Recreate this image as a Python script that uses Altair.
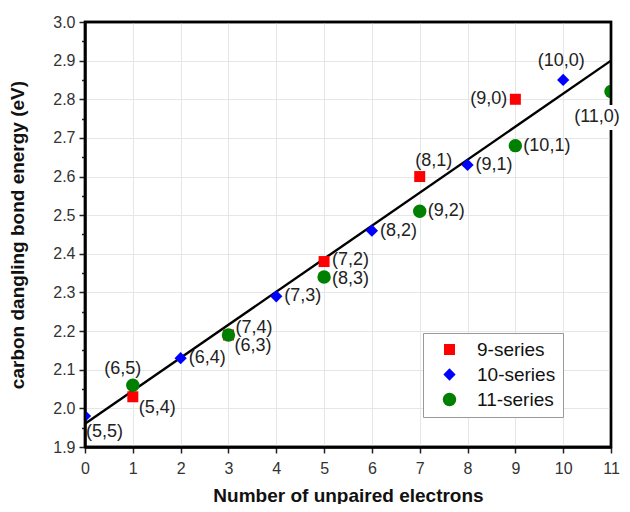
import altair as alt
import pandas as pd

# ---- data ----
series = ["9-series", "9-series", "9-series", "9-series", "9-series",
          "10-series", "10-series", "10-series", "10-series", "10-series", "10-series",
          "11-series", "11-series", "11-series", "11-series", "11-series", "11-series"]
x_vals = [1, 3, 5, 7, 9,
          0, 2, 4, 6, 8, 10,
          1, 3, 5, 7, 9, 11]
y_vals = [2.03, 2.19, 2.38, 2.60, 2.80,
          1.98, 2.13, 2.29, 2.46, 2.63, 2.85,
          2.06, 2.19, 2.34, 2.51, 2.68, 2.82]
labels = ["(5,4)", "(6,3)", "(7,2)", "(8,1)", "(9,0)",
          "(5,5)", "(6,4)", "(7,3)", "(8,2)", "(9,1)", "(10,0)",
          "(6,5)", "(7,4)", "(8,3)", "(9,2)", "(10,1)", "(11,0)"]
placement = ["lower_right", "lower_right", "right_up", "above_right", "left",
             "below_right", "right", "right", "right", "right", "above",
             "above_left", "upper_right", "right_down", "right", "right", "below_left"]

fit_x = [0, 11]
fit_y = [1.96, 2.90]

series_order = ["9-series", "10-series", "11-series"]
series_colors = ["#ff0000", "#0000ff", "#008000"]
series_shapes = ["square", "diamond", "circle"]
series_sizes = [121, 180, 140]

x_domain = [0, 11]
y_domain = [1.9, 3.0]
x_ticks = list(range(0, 12))
y_ticks = [round(1.9 + 0.05 * i, 2) for i in range(23)]  # major every 0.1, minor between

# ---- chart ----
df = pd.DataFrame({"series": series, "x": x_vals, "y": y_vals,
                   "label": labels, "place": placement})
fit_df = pd.DataFrame({"x": fit_x, "y": fit_y})

FONT = "Liberation Sans"
xscale = alt.Scale(domain=x_domain, nice=False, zero=False)
yscale = alt.Scale(domain=y_domain, nice=False, zero=False)

is_major = "abs(datum.value * 10 - round(datum.value * 10)) < 0.01"

x_axis = alt.Axis(values=x_ticks, title="Number of unpaired electrons", format="d",
                  titleFontSize=19, titleFontWeight="bold", titleColor="#111",
                  titlePadding=10, labelFontSize=16, labelColor="#333",
                  tickSize=6, tickColor="#222", tickWidth=1.5, labelPadding=7,
                  labelOverlap=False, labelFlush=False,
                  domain=True, domainColor="black", domainWidth=2.4,
                  grid=True, gridColor="#e6e6e6")
y_axis = alt.Axis(values=y_ticks, title="carbon dangling bond energy (eV)",
                  labelExpr=f"({is_major}) ? format(datum.value, '.1f') : ''",
                  titleFontSize=19, titleFontWeight="bold", titleColor="#111",
                  titlePadding=25, labelFontSize=16, labelColor="#333",
                  tickSize=6,
                  tickDash={"condition": {"test": is_major, "value": [6, 0]}, "value": [3.5, 10]},
                  gridOpacity={"condition": {"test": is_major, "value": 1}, "value": 0},
                  tickColor="#222", tickWidth=1.5, labelPadding=4,
                  labelOverlap=False, labelFlush=False,
                  domain=True, domainColor="black", domainWidth=2.4,
                  grid=True, gridColor="#e6e6e6")

X = alt.X("x:Q", scale=xscale, axis=x_axis)
Y = alt.Y("y:Q", scale=yscale, axis=y_axis)

base = alt.Chart(df)

fit = alt.Chart(fit_df).mark_line(color="black", strokeWidth=2.4).encode(x=X, y=Y)

pts = base.mark_point(filled=True, opacity=1, clip=True).encode(
    x=X, y=Y,
    color=alt.Color("series:N", scale=alt.Scale(domain=series_order, range=series_colors),
                    legend=alt.Legend(title=None, orient="none", legendX=338, legendY=311,
                                      labelFontSize=19, labelFont=FONT, labelColor="#111",
                                      symbolSize=120, rowPadding=5, padding=7,
                                      strokeColor="#999", fillColor="white",
                                      symbolOffset=10, labelOffset=18)),
    shape=alt.Shape("series:N", scale=alt.Scale(domain=series_order, range=series_shapes),
                    legend=None),
    size=alt.Size("series:N", scale=alt.Scale(domain=series_order, range=series_sizes),
                  legend=None),
)

# frame around the plot area, spanning the axis domains
frame = alt.Chart(pd.DataFrame({"a": [0]})).mark_rect(
    fillOpacity=0, stroke="black", strokeWidth=2.4).encode(
    x=alt.datum(x_domain[0], type="quantitative", scale=xscale, axis=x_axis),
    x2=alt.datum(x_domain[1]),
    y=alt.datum(y_domain[0], type="quantitative", scale=yscale, axis=y_axis),
    y2=alt.datum(y_domain[1]),
)

place_style = {
    "right": ("left", 8, 0),
    "right_up": ("left", 8, -2),
    "right_down": ("left", 8, 2),
    "left": ("right", -8, 0),
    "above": ("center", -2, -19),
    "above_left": ("center", -10, -16),
    "above_right": ("center", 14, -16),
    "below_left": ("center", -14, 25),
    "below_right": ("left", 1, 16),
    "upper_right": ("left", 7, -7),
    "lower_right": ("left", 6, 11),
}

text_layers = []
for name, (align, dx, dy) in place_style.items():
    enc = dict(x=X, y=Y, text="label:N")
    filt = base.transform_filter(alt.datum.place == name)
    if name == "below_left":
        text_layers.append(filt.mark_text(
            align=align, baseline="middle", dx=dx, dy=dy, fontSize=18, font=FONT,
            color="white", stroke="white", strokeWidth=8).encode(**enc))
    text_layers.append(filt.mark_text(
        align=align, baseline="middle", dx=dx, dy=dy, fontSize=18,
        font=FONT, color="#222").encode(**enc))

chart = alt.layer(fit, pts, frame, *text_layers).properties(
    width=526, height=425,
    autosize=alt.AutoSizeParams(type="none"),
    padding={"left": 77, "top": 14, "right": 11, "bottom": 57},
).configure(font=FONT).configure_view(stroke="black", strokeWidth=2.4)

chart.save("out.html", embed_options={"renderer": "svg", "actions": False})
